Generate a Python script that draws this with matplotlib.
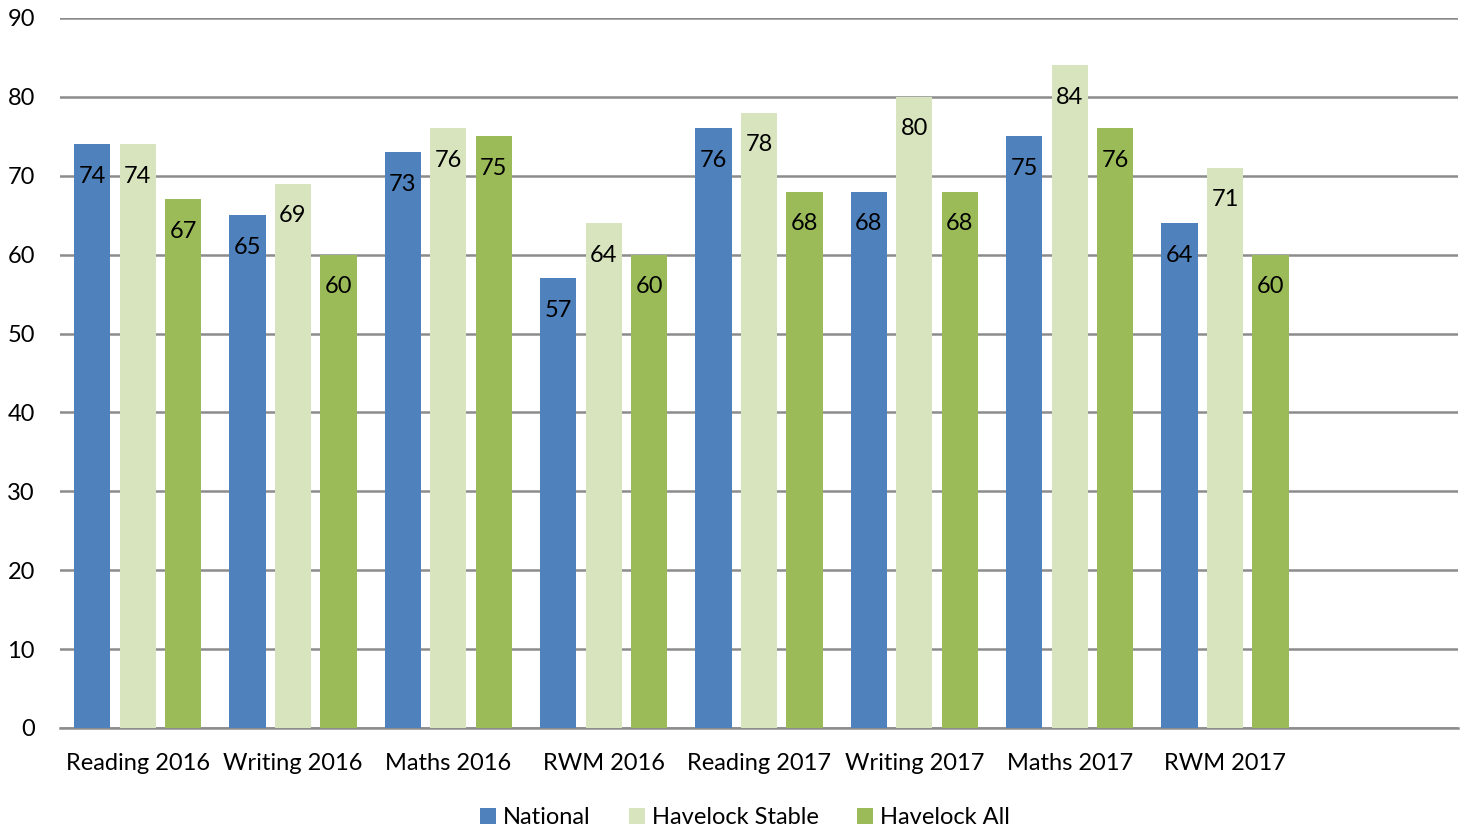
import matplotlib
matplotlib.use("Agg")
import matplotlib.pyplot as plt
import numpy as np

categories = ["Reading 2016", "Writing 2016", "Maths 2016", "RWM 2016",
              "Reading 2017", "Writing 2017", "Maths 2017", "RWM 2017", ""]
national = [74, 65, 73, 57, 76, 68, 75, 64]
stable = [74, 69, 76, 64, 78, 80, 84, 71]
havelock_all = [67, 60, 75, 60, 68, 68, 76, 60]
series_names = ["National", "Havelock Stable", "Havelock All"]
colors = ["#4F81BD", "#D7E4BD", "#9BBB59"]
yticks = [0, 10, 20, 30, 40, 50, 60, 70, 80, 90]

plt.rcParams['font.family'] = ['Lato', 'DejaVu Sans']
FS = 17

fig = plt.figure(figsize=(14.69, 8.34), dpi=100)
W, H = 1469, 834
ax = fig.add_axes([60 / W, 1 - 728 / H, (1458 - 60) / W, (728 - 18) / H])

x = np.arange(len(categories))
bw = 0.232
pitch = 0.293
series = [national, stable, havelock_all]
for i, (vals, name, c) in enumerate(zip(series, series_names, colors)):
    xs = np.arange(len(vals)) + (i - 1) * pitch
    bars = ax.bar(xs, vals, width=bw, color=c, label=name, zorder=3)
    for b, v in zip(bars, vals):
        ax.annotate(str(v), (b.get_x() + b.get_width() / 2, v),
                    xytext=(0, -32), textcoords="offset pixels",
                    ha="center", va="center", fontsize=FS, color="black", zorder=4)

ax.set_xlim(-0.5, len(categories) - 0.5)
ax.set_ylim(0, 90)
ax.set_yticks(yticks)
ax.set_xticks(x)
ax.set_xticklabels(categories, fontsize=FS)
ax.tick_params(axis='y', labelsize=FS, length=0, pad=18)
ax.tick_params(axis='x', length=0, pad=18)
ax.grid(axis='y', color="#8C8C8C", linewidth=1.8, zorder=0)
ax.set_axisbelow(True)
for s in ["top", "right", "left"]:
    ax.spines[s].set_visible(False)
ax.spines["bottom"].set_color("#8C8C8C")
ax.spines["bottom"].set_linewidth(1.8)

leg = fig.legend(loc="center", bbox_to_anchor=(745 / W, 1 - 818 / H), ncol=3,
                 frameon=False, fontsize=FS, handlelength=0.65, handleheight=0.65,
                 handletextpad=0.3, columnspacing=1.65)

fig.savefig("out.png", dpi=100)
